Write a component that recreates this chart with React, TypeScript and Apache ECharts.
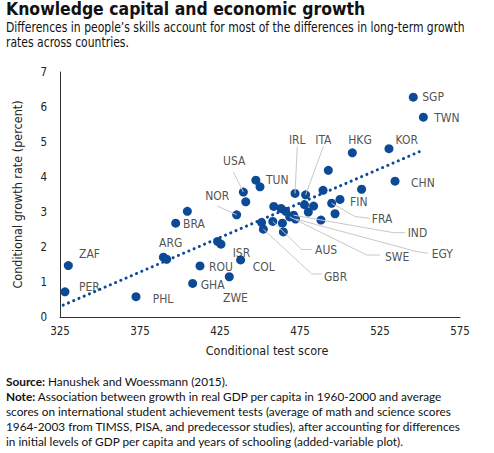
import React, { useEffect, useRef } from "react";
import * as echarts from "echarts";

// ---- data ----
const countries = [
  "ZAF", "PER", "PHL", "ARG", "", "BRA", "", "ROU", "GHA", "ZWE",
  "", "ISR", "COL", "NOR", "USA", "", "TUN", "", "IRL", "ITA",
  "", "HKG", "KOR", "SGP", "TWN", "CHN", "", "", "FIN", "FRA",
  "", "", "", "", "", "", "", "", "GBR", "AUS",
  "", "", "SWE", "IND", "EGY", "",
];
const testScore = [
  330.2, 328.1, 372.5, 389.6, 391.7, 397.3, 404.6, 412.5, 407.9, 430.8,
  423.5, 425.6, 437.9, 435.4, 439.6, 441.1, 447.4, 450.0, 471.9, 478.5,
  492.7, 507.7, 530.6, 545.8, 552.1, 534.4, 513.5, 489.4, 500.0, 494.8,
  477.8, 483.5, 480.2, 496.9, 488.1, 458.6, 463.2, 451.0, 452.1, 458.0,
  464.0, 464.6, 468.6, 471.0, 472.2, 466.0,
];
const growthRate = [
  1.47, 0.72, 0.58, 1.71, 1.65, 2.68, 3.02, 1.46, 0.96, 1.15,
  2.16, 2.08, 1.63, 2.92, 3.57, 3.29, 3.91, 3.72, 3.53, 3.49,
  4.19, 4.69, 4.81, 6.28, 5.71, 3.88, 3.65, 3.62, 3.36, 3.25,
  3.21, 3.17, 3.00, 2.95, 2.77, 3.16, 3.10, 2.70, 2.51, 2.73,
  2.68, 2.43, 2.86, 2.91, 2.80, 3.02,
];
const trendX = [327, 552.5];
const trendY = [0.34, 4.78];
const xTicks = { min: 325, max: 575, interval: 50 };
const yTicks = { min: 0, max: 7, interval: 1 };

// ---- label layout (data coordinates of label anchors, and leader elbows) ----
const labelAt: Record<string, [number, number, string]> = {
  ZAF: [336.9, 1.79, "left"],
  PER: [336.9, 0.87, "left"],
  PHL: [382.9, 0.51, "left"],
  ARG: [394.2, 2.11, "center"],
  BRA: [401.9, 2.66, "left"],
  ROU: [418.1, 1.42, "left"],
  GHA: [412.9, 0.91, "left"],
  ZWE: [426.9, 0.55, "left"],
  ISR: [432.9, 1.84, "left"],
  COL: [445.4, 1.44, "left"],
  NOR: [423.3, 3.46, "center"],
  USA: [433.9, 4.47, "center"],
  TUN: [453.75, 3.91, "left"],
  IRL: [473.3, 5.06, "center"],
  ITA: [489.6, 5.06, "center"],
  HKG: [512.5, 5.06, "center"],
  KOR: [541.7, 5.06, "center"],
  SGP: [551.4, 6.28, "left"],
  TWN: [558.9, 5.68, "left"],
  CHN: [544.4, 3.82, "left"],
  FIN: [506.25, 3.28, "left"],
  FRA: [519.8, 2.79, "left"],
  IND: [542.3, 2.39, "left"],
  EGY: [557.3, 1.8, "left"],
  SWE: [528.1, 1.72, "left"],
  AUS: [484.4, 1.91, "left"],
  GBR: [490.0, 1.15, "left"],
};
const leaders: Record<string, [number, number][]> = {
  NOR: [[423.3, 3.17]],
  USA: [[433.3, 4.15]],
  IRL: [[473.3, 4.87]],
  ITA: [[489.6, 4.87]],
  FRA: [[518.75, 2.82], [509.4, 2.87]],
  IND: [[540.6, 2.41], [533.3, 2.41]],
  EGY: [[555.2, 1.82], [547.9, 1.87]],
  SWE: [[525.0, 1.77], [516.7, 1.77]],
  AUS: [[482.3, 1.93], [476.0, 1.93]],
  GBR: [[488.6, 1.23], [482.3, 1.23]],
};

const BLUE = "#0d4a96";
const NARROW = "'DejaVu Sans Condensed', 'DejaVu Sans', sans-serif";
const BODY = "Lato, 'Liberation Sans', sans-serif";

export default function App() {
  const ref = useRef<HTMLDivElement>(null);
  useEffect(() => {
    document.body.style.margin = "0";
    const chart = echarts.init(ref.current!, null, { renderer: "svg" });
    const points = testScore.map((x, i) => [x, growthRate[i]]);
    const labelData = Object.keys(labelAt).map((name) => {
      const [x, y, align] = labelAt[name];
      return {
        name,
        value: [x, y],
        label: { align, position: [0, 0] },
      };
    });
    const leaderSeries = Object.keys(leaders).map((name) => {
      const idx = countries.indexOf(name);
      const pts = [...leaders[name], [testScore[idx], growthRate[idx]]];
      return {
        type: "line",
        data: pts,
        symbol: "none",
        silent: true,
        z: 3,
        lineStyle: { color: "#c9c9c9", width: 1 },
      };
    });
    chart.setOption({
      animation: false,
      grid: { left: 60, right: 34, top: 72, bottom: 136 },
      xAxis: {
        type: "value",
        ...xTicks,
        name: "Conditional test score",
        nameLocation: "middle",
        nameGap: 27,
        nameTextStyle: { fontFamily: NARROW, fontSize: 12.5, color: "#222", padding: [0, 0, 0, 14] },
        axisLine: { lineStyle: { color: "#333", width: 1 } },
        axisTick: { show: false },
        splitLine: { show: false },
        axisLabel: { fontFamily: NARROW, fontSize: 11.5, color: "#222", margin: 8 },
      },
      yAxis: {
        type: "value",
        ...yTicks,
        name: "Conditional growth rate (percent)",
        nameLocation: "middle",
        nameGap: 36,
        nameTextStyle: { fontFamily: NARROW, fontSize: 12.5, color: "#222" },
        axisLine: { show: true, lineStyle: { color: "#333", width: 1 } },
        axisTick: { show: false },
        splitLine: { show: false },
        axisLabel: { fontFamily: NARROW, fontSize: 11.5, color: "#222", margin: 13 },
      },
      series: [
        {
          type: "line",
          data: trendX.map((x, i) => [x, trendY[i]]),
          symbol: "none",
          z: 2,
          lineStyle: { color: BLUE, width: 3, type: [0.1, 5.6], cap: "round" },
        },
        {
          type: "scatter",
          data: points,
          symbolSize: 9,
          z: 2,
          itemStyle: { color: BLUE, opacity: 1 },
        },
        ...leaderSeries,
        {
          type: "scatter",
          data: labelData,
          symbolSize: 0,
          z: 4,
          silent: true,
          label: {
            show: true,
            formatter: "{b}",
            verticalAlign: "middle",
            fontFamily: NARROW,
            fontSize: 12,
            color: "#222",
          },
        },
      ],
      graphic: [
        {
          type: "text",
          x: 6,
          y: 0,
          scaleX: 0.97,
          style: {
            text: "Knowledge capital and economic growth",
            font: `bold 18px ${NARROW}`,
            fill: "#111",
          },
        },
        {
          type: "text",
          x: 6,
          y: 20,
          scaleX: 0.86,
          style: {
            text: "Differences in people’s skills account for most of the differences in long-term growth\nrates across countries.",
            font: `14px ${NARROW}`,
            lineHeight: 15,
            fill: "#111",
          },
        },
        {
          type: "text",
          left: 6,
          top: 374,
          style: {
            text:
              "{b|Source:} Hanushek and Woessmann (2015).\n" +
              "{b|Note:} Association between growth in real GDP per capita in 1960-2000 and average\n" +
              "scores on international student achievement tests (average of math and science scores\n" +
              "1964-2003 from TIMSS, PISA, and predecessor studies), after accounting for differences\n" +
              "in initial levels of GDP per capita and years of schooling (added-variable plot).",
            font: `11.8px ${BODY}`,
            lineHeight: 15,
            fill: "#111",
            rich: {
              b: { fontWeight: "bold", fontFamily: BODY, fontSize: 11.8, lineHeight: 15, fill: "#111" },
            },
          },
        },
      ],
    });
    return () => chart.dispose();
  }, []);
  return <div ref={ref} style={{ width: 494, height: 453 }} />;
}
